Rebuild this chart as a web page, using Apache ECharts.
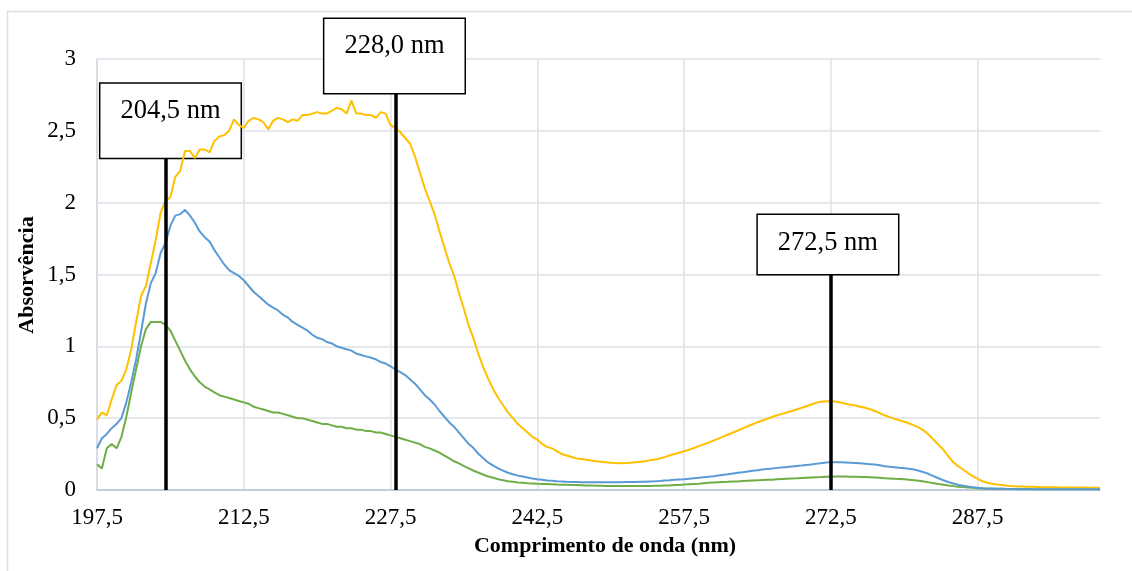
<!DOCTYPE html>
<html>
<head>
<meta charset="utf-8">
<title>Absorvência</title>
<script src="https://cdn.jsdelivr.net/npm/echarts@6/dist/echarts.min.js"></script>
<style>
  html, body { margin: 0; padding: 0; background: #fff; }
  #chart { width: 1132px; height: 571px; }
</style>
</head>
<body>
<div id="chart"></div>
<script>
// Wavelength grid of the scan: 197.5 to 300 nm, one reading every 0.5 nm
const wavelengths = [];
for (let w = 197.5; w <= 300; w += 0.5) wavelengths.push(w);
const categories = wavelengths.map(w => w.toFixed(1).replace('.', ','));

// Wavelengths that carry a label on the x axis
const tickLabels = ['197,5', '212,5', '227,5', '242,5', '257,5', '272,5', '287,5'];

// Absorbance readings, ten per row (5 nm per row)
const absorbanceYellow = [
  0.49, 0.54, 0.52, 0.63, 0.73, 0.76, 0.84, 0.98, 1.17, 1.35,
  1.42, 1.58, 1.74, 1.93, 2.01, 2.04, 2.18, 2.22, 2.36, 2.36,
  2.31, 2.37, 2.37, 2.35, 2.43, 2.46, 2.47, 2.50, 2.58, 2.54,
  2.52, 2.57, 2.59, 2.58, 2.56, 2.51, 2.57, 2.59, 2.58, 2.56,
  2.58, 2.57, 2.61, 2.61, 2.62, 2.63, 2.62, 2.62, 2.64, 2.66,
  2.65, 2.62, 2.71, 2.62, 2.62, 2.61, 2.61, 2.59, 2.63, 2.62,
  2.54, 2.52, 2.49, 2.45, 2.41, 2.32, 2.21, 2.10, 2.01, 1.92,
  1.80, 1.69, 1.58, 1.49, 1.37, 1.26, 1.14, 1.05, 0.94, 0.85,
  0.77, 0.70, 0.64, 0.59, 0.54, 0.50, 0.46, 0.43, 0.40, 0.37,
  0.35, 0.32, 0.30, 0.29, 0.27, 0.25, 0.24, 0.23, 0.22, 0.215,
  0.21, 0.205, 0.20, 0.196, 0.193, 0.19, 0.188, 0.187, 0.188, 0.19,
  0.193, 0.196, 0.20, 0.207, 0.213, 0.219, 0.229, 0.24, 0.25, 0.259,
  0.27, 0.28, 0.292, 0.305, 0.318, 0.33, 0.344, 0.358, 0.372, 0.386,
  0.40, 0.414, 0.429, 0.444, 0.458, 0.472, 0.484, 0.495, 0.508, 0.52,
  0.53, 0.54, 0.55, 0.56, 0.572, 0.583, 0.595, 0.607, 0.615, 0.618,
  0.618, 0.616, 0.609, 0.60, 0.594, 0.588, 0.58, 0.572, 0.562, 0.55,
  0.535, 0.52, 0.507, 0.495, 0.485, 0.475, 0.463, 0.45, 0.434, 0.414,
  0.385, 0.35, 0.315, 0.28, 0.235, 0.194, 0.166, 0.143, 0.118, 0.096,
  0.077, 0.061, 0.05, 0.043, 0.038, 0.034, 0.03, 0.027, 0.025, 0.024,
  0.023, 0.022, 0.021, 0.02, 0.02, 0.019, 0.019, 0.018, 0.018, 0.018,
  0.017, 0.017, 0.017, 0.016, 0.016, 0.016
];

const absorbanceBlue = [
  0.29, 0.36, 0.39, 0.43, 0.46, 0.50, 0.61, 0.75, 0.91, 1.10,
  1.30, 1.44, 1.51, 1.65, 1.72, 1.84, 1.91, 1.92, 1.95, 1.91,
  1.86, 1.80, 1.76, 1.73, 1.67, 1.62, 1.57, 1.53, 1.51, 1.49,
  1.46, 1.42, 1.38, 1.35, 1.32, 1.29, 1.27, 1.25, 1.22, 1.20,
  1.17, 1.15, 1.13, 1.11, 1.08, 1.06, 1.05, 1.03, 1.02, 1.00,
  0.99, 0.98, 0.97, 0.95, 0.94, 0.93, 0.92, 0.91, 0.89, 0.88,
  0.86, 0.84, 0.82, 0.80, 0.77, 0.74, 0.70, 0.66, 0.63, 0.595,
  0.55, 0.51, 0.47, 0.44, 0.40, 0.36, 0.32, 0.29, 0.25, 0.22,
  0.19, 0.17, 0.15, 0.135, 0.12, 0.11, 0.10, 0.094, 0.087, 0.080,
  0.075, 0.071, 0.066, 0.064, 0.061, 0.059, 0.057, 0.056, 0.055, 0.054,
  0.054, 0.054, 0.054, 0.054, 0.054, 0.054, 0.054, 0.054, 0.055, 0.055,
  0.056, 0.057, 0.058, 0.060, 0.061, 0.063, 0.066, 0.068, 0.071, 0.073,
  0.075, 0.078, 0.082, 0.085, 0.089, 0.092, 0.096, 0.101, 0.106, 0.110,
  0.115, 0.120, 0.124, 0.129, 0.134, 0.138, 0.143, 0.147, 0.150, 0.154,
  0.157, 0.160, 0.164, 0.167, 0.170, 0.174, 0.177, 0.182, 0.187, 0.191,
  0.194, 0.194, 0.194, 0.192, 0.190, 0.188, 0.186, 0.183, 0.180, 0.177,
  0.173, 0.166, 0.162, 0.159, 0.155, 0.152, 0.148, 0.143, 0.134, 0.124,
  0.111, 0.096, 0.082, 0.068, 0.056, 0.045, 0.036, 0.029, 0.024, 0.020,
  0.016, 0.013, 0.011, 0.010, 0.009, 0.008, 0.007, 0.007, 0.006, 0.006,
  0.006, 0.006, 0.005, 0.005, 0.005, 0.005, 0.005, 0.005, 0.005, 0.005,
  0.005, 0.005, 0.005, 0.005, 0.005, 0.005
];

const absorbanceGreen = [
  0.18, 0.15, 0.29, 0.32, 0.29, 0.37, 0.51, 0.68, 0.84, 1.00,
  1.12, 1.17, 1.17, 1.17, 1.15, 1.11, 1.04, 0.97, 0.90, 0.84,
  0.79, 0.75, 0.72, 0.70, 0.68, 0.66, 0.65, 0.64, 0.63, 0.62,
  0.61, 0.60, 0.58, 0.57, 0.56, 0.55, 0.54, 0.54, 0.53, 0.52,
  0.51, 0.50, 0.50, 0.49, 0.48, 0.47, 0.46, 0.46, 0.45, 0.44,
  0.44, 0.43, 0.43, 0.42, 0.42, 0.41, 0.41, 0.40, 0.40, 0.39,
  0.38, 0.37, 0.36, 0.35, 0.34, 0.33, 0.32, 0.30, 0.29, 0.275,
  0.26, 0.24, 0.22, 0.20, 0.185, 0.166, 0.15, 0.134, 0.12, 0.106,
  0.094, 0.085, 0.075, 0.068, 0.061, 0.057, 0.052, 0.05, 0.047, 0.045,
  0.043, 0.042, 0.041, 0.040, 0.038, 0.037, 0.036, 0.035, 0.034, 0.033,
  0.032, 0.031, 0.030, 0.029, 0.028, 0.028, 0.027, 0.027, 0.027, 0.027,
  0.027, 0.027, 0.028, 0.028, 0.029, 0.030, 0.031, 0.032, 0.034, 0.035,
  0.038, 0.040, 0.042, 0.044, 0.047, 0.050, 0.052, 0.054, 0.056, 0.057,
  0.059, 0.060, 0.062, 0.064, 0.066, 0.067, 0.069, 0.071, 0.072, 0.074,
  0.076, 0.078, 0.080, 0.081, 0.083, 0.085, 0.087, 0.089, 0.090, 0.092,
  0.093, 0.094, 0.094, 0.094, 0.093, 0.092, 0.091, 0.090, 0.089, 0.087,
  0.085, 0.082, 0.080, 0.078, 0.077, 0.075, 0.072, 0.068, 0.064, 0.059,
  0.053, 0.047, 0.041, 0.036, 0.031, 0.027, 0.023, 0.020, 0.017, 0.015,
  0.012, 0.010, 0.009, 0.008, 0.008, 0.008, 0.007, 0.007, 0.007, 0.007,
  0.007, 0.007, 0.006, 0.006, 0.006, 0.006, 0.006, 0.006, 0.006, 0.006,
  0.006, 0.006, 0.006, 0.006, 0.006, 0.006
];

// Marked band maxima (nm)
const peakWavelengths = [204.5, 228.0, 272.5];

// Callout boxes: height of the box bottom (absorbance units), box padding, nudge
const callouts = [
  { top: 2.31, padding: [12, 20, 32, 20], offset: [5, 0] },
  { top: 2.76, padding: [12, 20, 32, 20], offset: [-1, 0] },
  { top: 1.50, padding: [13, 20, 16, 20], offset: [-3, 0] }
];

const serif = '"Liberation Serif", "Times New Roman", serif';
const fmtComma = v => String(v).replace('.', ',');
const showTick = (idx, val) => tickLabels.includes(val);

const peakIndex = peakWavelengths.map(w => wavelengths.indexOf(w));
const peakText = peakWavelengths.map(w => w.toFixed(1).replace('.', ',') + ' nm');

const chart = echarts.init(document.getElementById('chart'), null, { renderer: 'canvas' });

chart.setOption({
  animation: false,
  backgroundColor: '#fff',
  grid: { left: 97, right: 32, top: 59, bottom: 81, containLabel: false },
  xAxis: {
    type: 'category',
    data: categories,
    boundaryGap: false,
    axisLine: { show: true, lineStyle: { color: '#B7C3D6', width: 1.5 } },
    axisTick: { show: false },
    axisLabel: {
      interval: showTick,
      color: '#000',
      fontFamily: serif,
      fontSize: 23,
      margin: 16
    },
    splitLine: { show: true, interval: showTick, lineStyle: { color: '#DCE0E6', width: 1.5 } }
  },
  yAxis: {
    type: 'value',
    min: 0,
    max: 3,
    interval: 0.5,
    axisLine: { show: true, lineStyle: { color: '#D3D9E2', width: 1.5 } },
    axisTick: { show: false },
    axisLabel: {
      formatter: fmtComma,
      color: '#000',
      fontFamily: serif,
      fontSize: 23,
      margin: 21
    },
    splitLine: { show: true, lineStyle: { color: '#DCE0E6', width: 1.5 } }
  },
  graphic: [
    {
      type: 'rect', silent: true, z: -10,
      shape: { x: 7.5, y: 11.5, width: 1150, height: 600 },
      style: { fill: 'none', stroke: '#D9DDE3', lineWidth: 1.5 }
    },
    {
      type: 'text', silent: true, x: 605, y: 546,
      style: {
        text: 'Comprimento de onda (nm)', fill: '#000',
        font: 'bold 22px ' + serif,
        align: 'center', verticalAlign: 'middle',
        textAlign: 'center', textVerticalAlign: 'middle'
      }
    },
    {
      type: 'text', silent: true, x: 27, y: 275, rotation: Math.PI / 2,
      style: {
        text: 'Absorvência', fill: '#000',
        font: 'bold 22px ' + serif,
        align: 'center', verticalAlign: 'middle',
        textAlign: 'center', textVerticalAlign: 'middle'
      }
    }
  ],
  series: [
    {
      name: 'Série 3',
      type: 'line',
      data: absorbanceGreen,
      symbol: 'none',
      lineStyle: { color: '#70AD47', width: 2 },
      itemStyle: { color: '#70AD47' },
      emphasis: { disabled: true },
      markLine: {
        silent: true,
        z: 6,
        symbol: ['none', 'none'],
        lineStyle: { color: '#000', width: 3.5, type: 'solid' },
        label: { show: false },
        emphasis: { disabled: true },
        data: peakIndex.map((idx, i) => [
          { coord: [idx, callouts[i].top] },
          { coord: [idx, 0] }
        ])
      },
      markPoint: {
        silent: true,
        z: 1,
        symbol: 'rect',
        symbolSize: 1,
        itemStyle: { color: 'rgba(0,0,0,0)' },
        emphasis: { disabled: true },
        label: {
          show: true,
          position: 'top',
          distance: 0,
          formatter: p => p.name,
          color: '#000',
          fontFamily: serif,
          fontSize: 26.5,
          lineHeight: 30,
          backgroundColor: '#fff',
          borderColor: '#000',
          borderWidth: 1.5
        },
        data: peakIndex.map((idx, i) => ({
          name: peakText[i],
          coord: [idx, callouts[i].top],
          label: { padding: callouts[i].padding, offset: callouts[i].offset }
        }))
      }
    },
    {
      name: 'Série 1',
      type: 'line',
      data: absorbanceYellow,
      symbol: 'none',
      lineStyle: { color: '#FFC000', width: 2 },
      itemStyle: { color: '#FFC000' },
      emphasis: { disabled: true }
    },
    {
      name: 'Série 2',
      type: 'line',
      data: absorbanceBlue,
      symbol: 'none',
      lineStyle: { color: '#5B9BD5', width: 2 },
      itemStyle: { color: '#5B9BD5' },
      emphasis: { disabled: true }
    }
  ]
});
</script>
</body>
</html>
